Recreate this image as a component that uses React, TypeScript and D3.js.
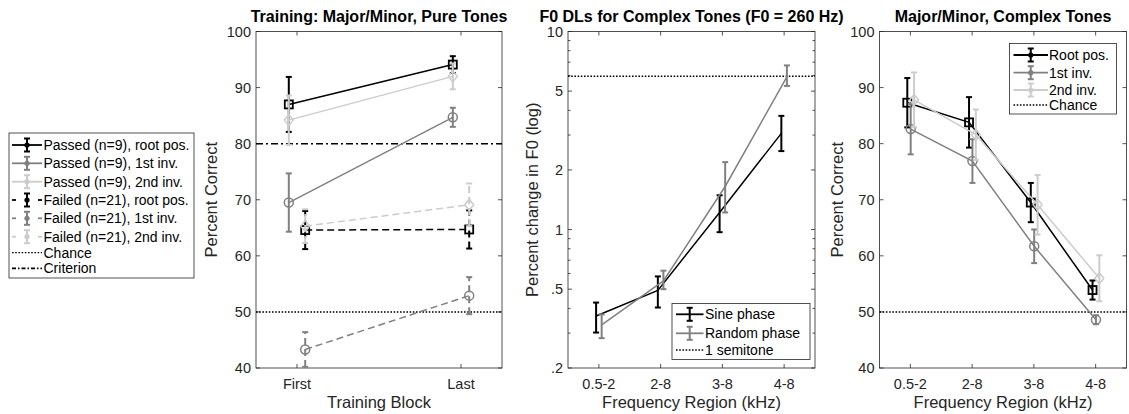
import React from 'react';
import * as d3 from 'd3';

// ---------- DATA ----------
const blocks = ['First', 'Last'];
const passedRoot = [87.0, 94.1];
const passedRootErr = [4.9, 1.5];
const passed1st = [69.5, 84.7];
const passed1stErr = [5.2, 1.7];
const passed2nd = [84.2, 92.0];
const passed2ndErr = [4.4, 2.3];
const failedRoot = [64.6, 64.7];
const failedRootErr = [3.4, 3.4];
const failed1st = [43.3, 52.9];
const failed1stErr = [3.1, 3.3];
const failed2nd = [65.3, 69.1];
const failed2ndErr = [3.0, 3.8];
const chanceLevel = 50;
const criterionLevel = 80;
const pctTicks = [40, 50, 60, 70, 80, 90, 100];

const regions = ['0.5-2', '2-8', '3-8', '4-8'];
const sinePhase = [0.366, 0.493, 1.22, 3.06];
const sineLow = [0.302, 0.404, 0.97, 2.49];
const sineHigh = [0.428, 0.58, 1.49, 3.75];
const randomPhase = [0.33, 0.55, 1.65, 5.9];
const randomLow = [0.283, 0.5, 1.22, 5.31];
const randomHigh = [0.373, 0.62, 2.19, 6.74];
const semitone = 5.95;
const logTicks = [0.2, 0.5, 1, 2, 5, 10];
const logTickLabels = ['.2', '.5', '1', '2', '5', '10'];
const logMinorTicks = [0.3, 0.4, 0.6, 0.7, 0.8, 0.9, 3, 4, 6, 7, 8, 9];

const complexRoot = [87.3, 83.8, 69.5, 53.9];
const complexRootErr = [4.4, 4.5, 3.5, 1.7];
const complex1st = [82.6, 76.9, 61.7, 48.6];
const complex1stErr = [4.5, 3.9, 3.0, 0.8];
const complex2nd = [87.8, 81.6, 69.1, 56.0];
const complex2ndErr = [4.9, 4.5, 5.3, 4.1];

// ---------- STYLE ----------
const FONT = '"Liberation Sans", Arial, Helvetica, sans-serif';
const AX = '#262626';
const BLACK = '#000000';
const GREY = '#808080';
const LIGHT = '#cccccc';
const DASH = '7,4';
const DOT = '1.6,1.6';
const DASHDOT = '7,3,2,3';
const TOP = 31.5;
const BOTTOM = 368;
const TICK = 14.5;
const LABEL = 16.5;

type Marker = 'square' | 'circle' | 'diamond' | 'none';

function MarkerShape({ x, y, m, color }: { x: number; y: number; m: Marker; color: string }) {
  if (m === 'square') return <rect x={x - 4} y={y - 4} width={8} height={8} fill="none" stroke={color} strokeWidth={1.8} />;
  if (m === 'circle') return <circle cx={x} cy={y} r={4.5} fill="none" stroke={color} strokeWidth={1.5} />;
  if (m === 'diamond') return <path d={`M${x},${y - 5.5}L${x + 4.5},${y}L${x},${y + 5.5}L${x - 4.5},${y}Z`} fill="none" stroke={color} strokeWidth={1.5} />;
  return null;
}

function ErrSeries({ xs, ys, lo, hi, xScale, yScale, color, dash, marker, offset }: any) {
  const pts = ys.map((v: number, i: number) => [xScale(i + 1 + offset), yScale(v)] as [number, number]);
  const line = d3.line()(pts) || '';
  return (
    <g>
      <path d={line} fill="none" stroke={color} strokeWidth={1.5} strokeDasharray={dash || undefined} />
      {ys.map((v: number, i: number) => {
        const x = xScale(i + 1 + offset);
        const y1 = yScale(lo[i]);
        const y2 = yScale(hi[i]);
        return (
          <g key={i}>
            <line x1={x} x2={x} y1={y1} y2={y2} stroke={color} strokeWidth={2} strokeDasharray={dash || undefined} />
            <line x1={x - 3} x2={x + 3} y1={y1} y2={y1} stroke={color} strokeWidth={2} />
            <line x1={x - 3} x2={x + 3} y1={y2} y2={y2} stroke={color} strokeWidth={2} />
            <MarkerShape x={x} y={yScale(v)} m={marker} color={color} />
          </g>
        );
      })}
    </g>
  );
}

function Frame({ x0, x1, yScale, yTicks, yLabels, minor, xScale, xLabels, title, xTitle, yTitle, yTitleX }: any) {
  const cx = (x0 + x1) / 2;
  return (
    <g fontFamily={FONT}>
      <rect x={x0} y={TOP} width={x1 - x0} height={BOTTOM - TOP} fill="none" stroke={AX} strokeWidth={0.8} />
      {yTicks.map((t: number, i: number) => (
        <g key={'y' + i}>
          <line x1={x0} x2={x0 + 4} y1={yScale(t)} y2={yScale(t)} stroke={AX} strokeWidth={0.8} />
          <line x1={x1} x2={x1 - 4} y1={yScale(t)} y2={yScale(t)} stroke={AX} strokeWidth={0.8} />
          <text x={x0 - 5} y={yScale(t)} textAnchor="end" dominantBaseline="central" fontSize={TICK} fill={AX}>
            {yLabels[i]}
          </text>
        </g>
      ))}
      {(minor || []).map((t: number, i: number) => (
        <g key={'m' + i}>
          <line x1={x0} x2={x0 + 2.5} y1={yScale(t)} y2={yScale(t)} stroke={AX} strokeWidth={0.8} />
          <line x1={x1} x2={x1 - 2.5} y1={yScale(t)} y2={yScale(t)} stroke={AX} strokeWidth={0.8} />
        </g>
      ))}
      {xLabels.map((l: string, i: number) => (
        <g key={'x' + i}>
          <line x1={xScale(i + 1)} x2={xScale(i + 1)} y1={BOTTOM} y2={BOTTOM - 4} stroke={AX} strokeWidth={0.8} />
          <line x1={xScale(i + 1)} x2={xScale(i + 1)} y1={TOP} y2={TOP + 4} stroke={AX} strokeWidth={0.8} />
          <text x={xScale(i + 1)} y={388.5} textAnchor="middle" fontSize={TICK} fill={AX}>
            {l}
          </text>
        </g>
      ))}
      <text x={cx} y={22} textAnchor="middle" fontSize={16} fontWeight="bold" fill="#000">
        {title}
      </text>
      <text x={cx} y={408} textAnchor="middle" fontSize={LABEL} fill={AX}>
        {xTitle}
      </text>
      <text
        transform={`translate(${yTitleX},${(TOP + BOTTOM) / 2}) rotate(-90)`}
        textAnchor="middle"
        dominantBaseline="central"
        fontSize={LABEL}
        fill={AX}
      >
        {yTitle}
      </text>
    </g>
  );
}

function LegendGlyph({ x0, x1, y, color, dash, errorbar }: any) {
  const mid = (x0 + x1) / 2;
  return (
    <g>
      {dash === 'dash' ? (
        <g>
          <line x1={x0} x2={x0 + 4} y1={y} y2={y} stroke={color} strokeWidth={1.8} />
          <line x1={x1 - 4} x2={x1} y1={y} y2={y} stroke={color} strokeWidth={1.8} />
        </g>
      ) : (
        <line x1={x0} x2={x1} y1={y} y2={y} stroke={color} strokeWidth={dash === 'dot' ? 1.3 : 1.8} strokeDasharray={dash === 'dot' ? DOT : dash === 'dashdot' ? '4,2,1.5,2' : undefined} />
      )}
      {errorbar && (
        <g>
          <line x1={mid} x2={mid} y1={y - 6.5} y2={y + 6.5} stroke={color} strokeWidth={2} />
          <line x1={mid - 3} x2={mid + 3} y1={y - 6.5} y2={y - 6.5} stroke={color} strokeWidth={2} />
          <line x1={mid - 3} x2={mid + 3} y1={y + 6.5} y2={y + 6.5} stroke={color} strokeWidth={2} />
          <circle cx={mid} cy={y} r={2.6} fill={color} />
        </g>
      )}
    </g>
  );
}

export default function App() {
  // Panel 1
  const x1s = d3.scaleLinear().domain([0.75, 2.25]).range([256, 502]);
  const yPct1 = d3.scaleLinear().domain([40, 100]).range([BOTTOM, TOP]);
  // Panel 2
  const x2s = d3.scaleLinear().domain([0.5, 4.5]).range([568, 815]);
  const yLog = d3.scaleLog().domain([0.2, 10]).range([BOTTOM, TOP]);
  // Panel 3
  const x3s = d3.scaleLinear().domain([0.5, 4.5]).range([879.5, 1126.5]);
  const yPct3 = d3.scaleLinear().domain([40, 100]).range([BOTTOM, TOP]);

  const lo = (v: number[], e: number[]) => v.map((d, i) => d - e[i]);
  const hi = (v: number[], e: number[]) => v.map((d, i) => d + e[i]);

  const leftLegend = [
    { label: 'Passed (n=9), root pos.', color: BLACK, dash: 'solid', eb: true, y: 145 },
    { label: 'Passed (n=9), 1st inv.', color: GREY, dash: 'solid', eb: true, y: 163.3 },
    { label: 'Passed (n=9), 2nd inv.', color: LIGHT, dash: 'solid', eb: true, y: 181.7 },
    { label: 'Failed (n=21), root pos.', color: BLACK, dash: 'dash', eb: true, y: 200 },
    { label: 'Failed (n=21), 1st inv.', color: GREY, dash: 'dash', eb: true, y: 218.3 },
    { label: 'Failed (n=21), 2nd inv.', color: LIGHT, dash: 'dash', eb: true, y: 236.7 },
    { label: 'Chance', color: BLACK, dash: 'dot', eb: false, y: 252.7 },
    { label: 'Criterion', color: BLACK, dash: 'dashdot', eb: false, y: 268.3 },
  ];
  const midLegend = [
    { label: 'Sine phase', color: BLACK, dash: 'solid', eb: true, y: 314.3 },
    { label: 'Random phase', color: GREY, dash: 'solid', eb: true, y: 333.3 },
    { label: '1 semitone', color: BLACK, dash: 'dot', eb: false, y: 350 },
  ];
  const rightLegend = [
    { label: 'Root pos.', color: BLACK, dash: 'solid', eb: true, y: 55 },
    { label: '1st inv.', color: GREY, dash: 'solid', eb: true, y: 72.7 },
    { label: '2nd inv.', color: LIGHT, dash: 'solid', eb: true, y: 90 },
    { label: 'Chance', color: BLACK, dash: 'dot', eb: false, y: 105 },
  ];

  return (
    <div style={{ position: 'absolute', left: 0, top: 0 }}>
      <svg width={1129} height={414} style={{ display: 'block', background: '#fff' }}>
        {/* ---------- Panel 1 ---------- */}
        <Frame
          x0={256}
          x1={502}
          yScale={yPct1}
          yTicks={pctTicks}
          yLabels={pctTicks.map(String)}
          xScale={x1s}
          xLabels={blocks}
          title="Training: Major/Minor, Pure Tones"
          xTitle="Training Block"
          yTitle="Percent Correct"
          yTitleX={211}
        />
        <line x1={256} x2={502} y1={yPct1(criterionLevel)} y2={yPct1(criterionLevel)} stroke={BLACK} strokeWidth={1.5} strokeDasharray={DASHDOT} />
        <line x1={256} x2={502} y1={yPct1(chanceLevel)} y2={yPct1(chanceLevel)} stroke={BLACK} strokeWidth={1.5} strokeDasharray={DOT} />
        <ErrSeries ys={passedRoot} lo={lo(passedRoot, passedRootErr)} hi={hi(passedRoot, passedRootErr)} xScale={x1s} yScale={yPct1} color={BLACK} marker="square" offset={-0.05} />
        <ErrSeries ys={passed1st} lo={lo(passed1st, passed1stErr)} hi={hi(passed1st, passed1stErr)} xScale={x1s} yScale={yPct1} color={GREY} marker="circle" offset={-0.05} />
        <ErrSeries ys={passed2nd} lo={lo(passed2nd, passed2ndErr)} hi={hi(passed2nd, passed2ndErr)} xScale={x1s} yScale={yPct1} color={LIGHT} marker="diamond" offset={-0.05} />
        <ErrSeries ys={failedRoot} lo={lo(failedRoot, failedRootErr)} hi={hi(failedRoot, failedRootErr)} xScale={x1s} yScale={yPct1} color={BLACK} marker="square" offset={0.05} dash={DASH} />
        <ErrSeries ys={failed1st} lo={lo(failed1st, failed1stErr)} hi={hi(failed1st, failed1stErr)} xScale={x1s} yScale={yPct1} color={GREY} marker="circle" offset={0.05} dash={DASH} />
        <ErrSeries ys={failed2nd} lo={lo(failed2nd, failed2ndErr)} hi={hi(failed2nd, failed2ndErr)} xScale={x1s} yScale={yPct1} color={LIGHT} marker="diamond" offset={0.05} dash={DASH} />

        {/* Left legend */}
        <g fontFamily={FONT}>
          <rect x={9} y={133} width={185} height={145} fill="#fff" stroke={AX} strokeWidth={0.8} />
          {leftLegend.map((d, i) => (
            <g key={i}>
              <LegendGlyph x0={12} x1={42} y={d.y} color={d.color} dash={d.dash} errorbar={d.eb} />
              <text x={43.5} y={d.y} dominantBaseline="central" fontSize={14} fill="#000">
                {d.label}
              </text>
            </g>
          ))}
        </g>

        {/* ---------- Panel 2 ---------- */}
        <Frame
          x0={568}
          x1={815}
          yScale={yLog}
          yTicks={logTicks}
          yLabels={logTickLabels}
          minor={logMinorTicks}
          xScale={x2s}
          xLabels={regions}
          title="F0 DLs for Complex Tones (F0 = 260 Hz)"
          xTitle="Frequency Region (kHz)"
          yTitle="Percent change in F0 (log)"
          yTitleX={532}
        />
        <line x1={568} x2={815} y1={yLog(semitone)} y2={yLog(semitone)} stroke={BLACK} strokeWidth={1.5} strokeDasharray={DOT} />
        <ErrSeries ys={sinePhase} lo={sineLow} hi={sineHigh} xScale={x2s} yScale={yLog} color={BLACK} marker="none" offset={-0.045} />
        <ErrSeries ys={randomPhase} lo={randomLow} hi={randomHigh} xScale={x2s} yScale={yLog} color={GREY} marker="none" offset={0.045} />
        <g fontFamily={FONT}>
          <rect x={672} y={303.5} width={138} height={56} fill="#fff" stroke={AX} strokeWidth={0.8} />
          {midLegend.map((d, i) => (
            <g key={i}>
              <LegendGlyph x0={676} x1={703.5} y={d.y} color={d.color} dash={d.dash} errorbar={false} />
              {d.eb && (
                <g>
                  <line x1={689.7} x2={689.7} y1={d.y - 6.5} y2={d.y + 6.5} stroke={d.color} strokeWidth={2} />
                  <line x1={686.7} x2={692.7} y1={d.y - 6.5} y2={d.y - 6.5} stroke={d.color} strokeWidth={2} />
                  <line x1={686.7} x2={692.7} y1={d.y + 6.5} y2={d.y + 6.5} stroke={d.color} strokeWidth={2} />
                </g>
              )}
              <text x={705} y={d.y} dominantBaseline="central" fontSize={14} fill="#000">
                {d.label}
              </text>
            </g>
          ))}
        </g>

        {/* ---------- Panel 3 ---------- */}
        <Frame
          x0={879.5}
          x1={1126.5}
          yScale={yPct3}
          yTicks={pctTicks}
          yLabels={pctTicks.map(String)}
          xScale={x3s}
          xLabels={regions}
          title="Major/Minor, Complex Tones"
          xTitle="Frequency Region (kHz)"
          yTitle="Percent Correct"
          yTitleX={837}
        />
        <line x1={879.5} x2={1126.5} y1={yPct3(chanceLevel)} y2={yPct3(chanceLevel)} stroke={BLACK} strokeWidth={1.5} strokeDasharray={DOT} />
        <ErrSeries ys={complexRoot} lo={lo(complexRoot, complexRootErr)} hi={hi(complexRoot, complexRootErr)} xScale={x3s} yScale={yPct3} color={BLACK} marker="square" offset={-0.05} />
        <ErrSeries ys={complex1st} lo={lo(complex1st, complex1stErr)} hi={hi(complex1st, complex1stErr)} xScale={x3s} yScale={yPct3} color={GREY} marker="circle" offset={0.005} />
        <ErrSeries ys={complex2nd} lo={lo(complex2nd, complex2ndErr)} hi={hi(complex2nd, complex2ndErr)} xScale={x3s} yScale={yPct3} color={LIGHT} marker="diamond" offset={0.06} />
        <g fontFamily={FONT}>
          <rect x={1009.5} y={43.5} width={107} height={70.5} fill="#fff" stroke={AX} strokeWidth={0.8} />
          {rightLegend.map((d, i) => (
            <g key={i}>
              <LegendGlyph x0={1013.5} x1={1048} y={d.y} color={d.color} dash={d.dash} errorbar={d.eb} />
              <text x={1049} y={d.y} dominantBaseline="central" fontSize={14} fill="#000">
                {d.label}
              </text>
            </g>
          ))}
        </g>
      </svg>
    </div>
  );
}
